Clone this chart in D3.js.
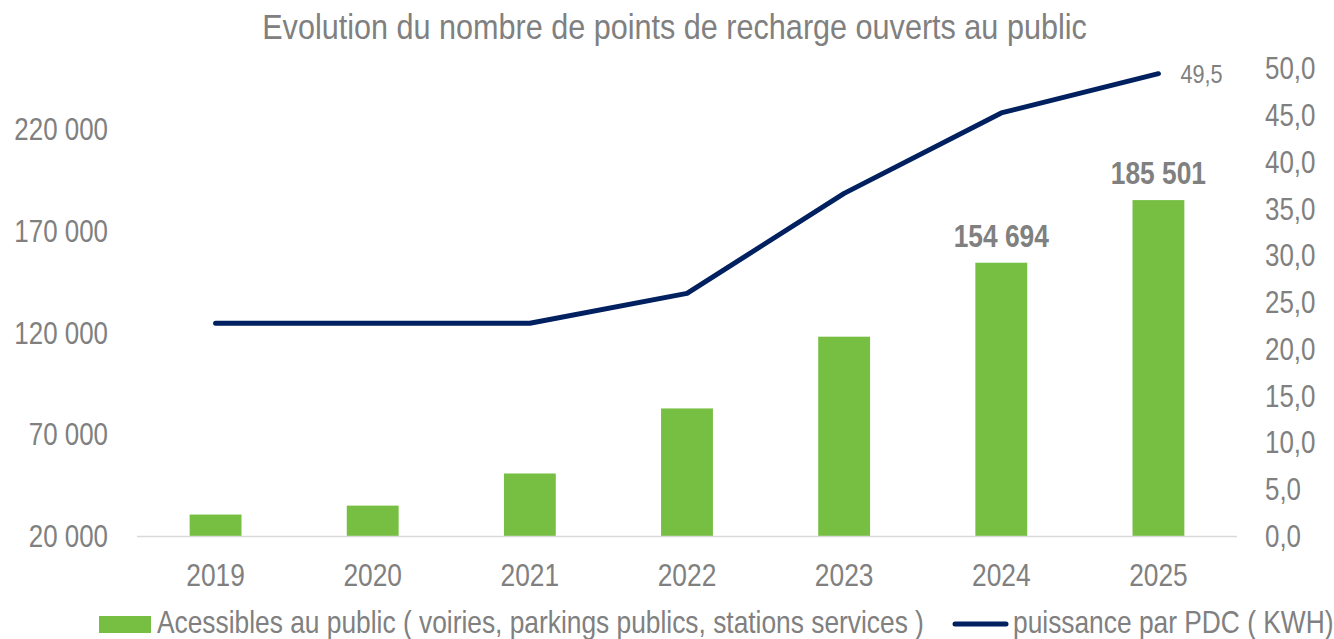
<!DOCTYPE html>
<html lang="fr">
<head>
<meta charset="utf-8">
<script src="https://cdn.jsdelivr.net/npm/d3@7"></script>
<style>
  html, body { margin: 0; padding: 0; background: #ffffff; }
  svg { display: block; }
  text { font-family: "Liberation Sans Narrow", "Arial Narrow", "Liberation Sans", Arial, sans-serif; fill: #808080; }
</style>
</head>
<body>
<svg id="chart" width="1334" height="639"></svg>
<script>
// Données : points de recharge ouverts au public et puissance moyenne par PDC
const years = ["2019", "2020", "2021", "2022", "2023", "2024", "2025"];
const pointsPublics = [30800, 35200, 51000, 83000, 118300, 154694, 185501];
const puissanceParPdc = [22.8, 22.8, 22.8, 26.0, 36.7, 45.3, 49.5];
const leftTicks = [20000, 70000, 120000, 170000, 220000];
const rightTicks = [0, 5, 10, 15, 20, 25, 30, 35, 40, 45, 50];
const labelledYears = ["2024", "2025"];

const titleText = "Evolution du nombre de points de recharge ouverts au public";
const barLegend = "Acessibles au public ( voiries, parkings publics, stations services )";
const lineLegend = "puissance par PDC ( KWH)";

const fr = d3.formatLocale({ decimal: ",", thousands: "\u00a0", grouping: [3], currency: ["", " €"] });
const fmtInt = fr.format(",d");
const fmtDec = fr.format(".1f");

// Police étroite : compression horizontale du texte
const SX = 0.85;
const narrow = `scale(${SX},1)`;
function place(sel, x, y) {
  return sel.attr("transform", `translate(${x},${y}) ${narrow}`);
}

const svg = d3.select("#chart");

const x = d3.scaleBand().domain(years).range([137, 1237]).paddingInner(0.67).paddingOuter(0.335);
const yLeft = d3.scaleLinear().domain([20000, 250000]).range([536.5, 69]);
const yRight = d3.scaleLinear().domain([0, 50]).range([536.5, 69]);

// Titre
place(svg.append("text"), 674.5, 39)
  .attr("text-anchor", "middle")
  .style("font-size", "36px")
  .text(titleText);

// Barres
svg.append("g").selectAll("rect")
  .data(years.map((y, i) => ({ year: y, v: pointsPublics[i] })))
  .join("rect")
  .attr("x", d => x(d.year))
  .attr("width", x.bandwidth())
  .attr("y", d => yLeft(d.v))
  .attr("height", d => yLeft(20000) - yLeft(d.v))
  .attr("fill", "#76bf43");

// Ligne de base
svg.append("line")
  .attr("x1", 137).attr("x2", 1237)
  .attr("y1", yLeft(20000)).attr("y2", yLeft(20000))
  .attr("stroke", "#d9d9d9").attr("stroke-width", 1.5);

// Axe gauche
const axLeft = svg.append("g")
  .attr("transform", "translate(108,0)")
  .call(d3.axisLeft(yLeft).tickValues(leftTicks).tickFormat(fmtInt).tickSize(0).tickPadding(0));
axLeft.select(".domain").remove();
axLeft.selectAll("text").style("font-size", "30.5px").attr("fill", "#808080").attr("transform", narrow);

// Axe droit
const axRight = svg.append("g")
  .attr("transform", "translate(1265,0)")
  .call(d3.axisRight(yRight).tickValues(rightTicks).tickFormat(fmtDec).tickSize(0).tickPadding(0));
axRight.select(".domain").remove();
axRight.selectAll("text").style("font-size", "30.5px").attr("fill", "#808080").attr("transform", narrow);

// Axe des années
const axBottom = svg.append("g")
  .attr("transform", "translate(0,564)")
  .call(d3.axisBottom(x).tickSize(0).tickPadding(0));
axBottom.select(".domain").remove();
axBottom.selectAll("text").style("font-size", "31px").attr("fill", "#808080").attr("dy", "0.71em").attr("transform", narrow);

// Étiquettes de valeur des barres
svg.append("g").selectAll("text")
  .data(years.map((y, i) => ({ year: y, v: pointsPublics[i] })).filter(d => labelledYears.includes(d.year)))
  .join("text")
  .attr("transform", d => `translate(${x(d.year) + x.bandwidth() / 2},${yLeft(d.v) - 16}) ${narrow}`)
  .attr("text-anchor", "middle")
  .style("font-size", "31px")
  .style("font-weight", "bold")
  .text(d => fmtInt(d.v));

// Courbe de puissance
const line = d3.line()
  .x((d, i) => x(years[i]) + x.bandwidth() / 2)
  .y(d => yRight(d));
svg.append("path")
  .datum(puissanceParPdc)
  .attr("d", line)
  .attr("fill", "none")
  .attr("stroke", "#002060")
  .attr("stroke-width", 5)
  .attr("stroke-linejoin", "round")
  .attr("stroke-linecap", "round");

// Étiquette du dernier point
const lastIdx = years.length - 1;
place(svg.append("text"),
      x(years[lastIdx]) + x.bandwidth() / 2 + 22,
      yRight(puissanceParPdc[lastIdx]) + 9)
  .style("font-size", "25.5px")
  .text(fmtDec(puissanceParPdc[lastIdx]));

// Légende
const legend = svg.append("g");
legend.append("rect")
  .attr("x", 99).attr("y", 616).attr("width", 52).attr("height", 17)
  .attr("fill", "#76bf43");
place(legend.append("text"), 157, 633)
  .style("font-size", "31px")
  .text(barLegend);
legend.append("line")
  .attr("x1", 955).attr("x2", 1006).attr("y1", 624).attr("y2", 624)
  .attr("stroke", "#002060").attr("stroke-width", 5).attr("stroke-linecap", "round");
place(legend.append("text"), 1013, 633)
  .style("font-size", "31px")
  .text(lineLegend);
</script>
</body>
</html>
